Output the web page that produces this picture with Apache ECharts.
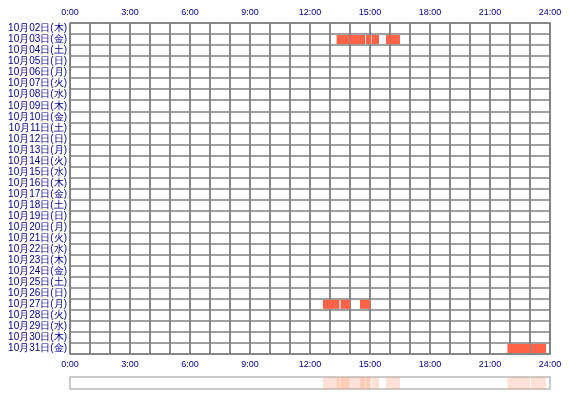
<!DOCTYPE html>
<html><head><meta charset="utf-8">
<script src="https://cdn.jsdelivr.net/npm/echarts@6/dist/echarts.min.js"></script>
<style>body{margin:0;background:#fff}#chart{width:570px;height:400px}</style>
</head><body><div id="chart"></div>
<script>
const weekdays = ["木","金","土","日","月","火","水"];
const days = [];
for (let d = 2; d <= 31; d++) {
  days.push("10月" + String(d).padStart(2, "0") + "日(" + weekdays[(d - 2) % 7] + ")");
}
// [day label, start hour, end hour]
const sessions = [
  ["10月03日(金)", 13.33, 13.97],
  ["10月03日(金)", 14.0, 14.75],
  ["10月03日(金)", 14.8, 15.05],
  ["10月03日(金)", 15.08, 15.45],
  ["10月03日(金)", 15.8, 16.5],
  ["10月27日(月)", 12.65, 13.47],
  ["10月27日(月)", 13.53, 14.0],
  ["10月27日(月)", 14.5, 15.0],
  ["10月31日(金)", 21.87, 23.0],
  ["10月31日(金)", 23.05, 23.8],
];
const hourLabels = (v) => (v % 3 === 0 ? v + ":00" : "");

const renderBar = (params, api) => {
  const start = api.coord([api.value(1), api.value(0)]);
  const end = api.coord([api.value(2), api.value(0)]);
  const h = api.size([0, 1])[1];
  return {
    type: "rect",
    shape: { x: start[0], y: start[1] - h / 2 + 1, width: end[0] - start[0], height: h - 2 },
    style: api.style(),
  };
};

const chart = echarts.init(document.getElementById("chart"));
const axisText = { color: "#000080", fontSize: 9, fontFamily: "Liberation Sans" };
const hourAxis = (grid, pos, show) => ({
  type: "value", gridIndex: grid, position: pos, min: 0, max: 24, interval: 1,
  axisLine: { show: false }, axisTick: { show: false },
  axisLabel: Object.assign({ show: show, formatter: hourLabels, margin: 6 }, axisText),
  splitLine: { show: grid === 0, lineStyle: { color: "#808080", width: 1.5 } },
});
chart.setOption({
  animation: false,
  grid: [
    { left: 70, right: 20, top: 23, height: 331, show: true, borderColor: "#808080", borderWidth: 1.5 },
    { left: 70, right: 20, top: 377, height: 12, show: true, borderColor: "#bbbbbb", borderWidth: 1.5 },
  ],
  xAxis: [hourAxis(0, "top", true), hourAxis(0, "bottom", true), hourAxis(1, "bottom", false)],
  yAxis: [
    {
      type: "category", data: days, inverse: true, gridIndex: 0,
      axisLine: { show: false }, axisTick: { show: false },
      axisLabel: Object.assign({ margin: 3, interval: 0 }, axisText, { fontSize: 10 }),
      splitLine: { show: true, interval: 0, lineStyle: { color: "#808080", width: 1.5 } },
    },
    { type: "category", data: ["all"], gridIndex: 1, show: false },
  ],
  series: [
    {
      type: "custom", xAxisIndex: 0, yAxisIndex: 0, renderItem: renderBar,
      itemStyle: { color: "#ff6347" }, encode: { x: [1, 2], y: 0 }, data: sessions,
    },
    {
      type: "custom", xAxisIndex: 2, yAxisIndex: 1,
      renderItem: (params, api) => {
        const s = api.coord([api.value(1), 0]);
        const e = api.coord([api.value(2), 0]);
        const h = api.size([0, 1])[1];
        return { type: "rect", shape: { x: s[0], y: s[1] - h / 2, width: e[0] - s[0], height: h }, style: api.style() };
      },
      itemStyle: { color: "rgba(255,160,122,0.3)" },
      encode: { x: [1, 2] },
      data: sessions,
    },
  ],
});
</script></body></html>
